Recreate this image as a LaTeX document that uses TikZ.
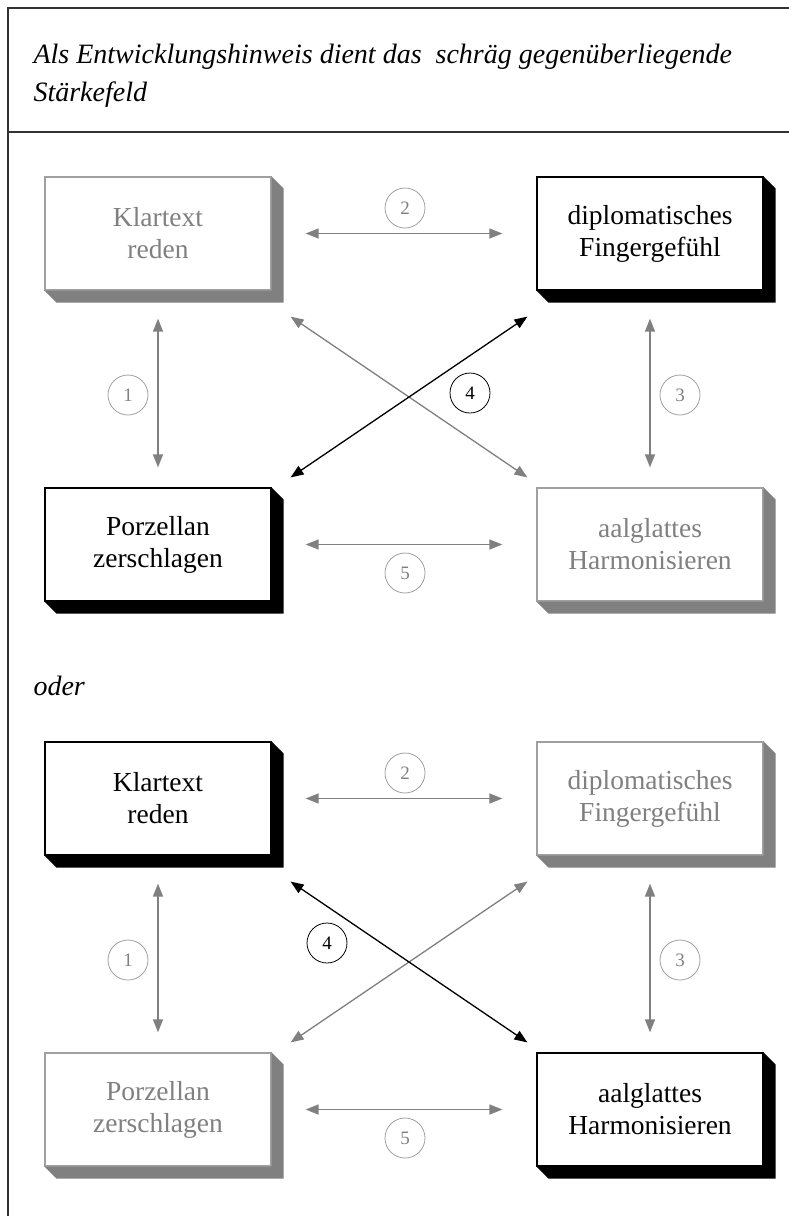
\documentclass[tikz,border=0pt]{standalone}
\usepackage{fontspec}
\setmainfont{Liberation Serif}
\usetikzlibrary{arrows.meta}
\definecolor{fg}{HTML}{808080}
\definecolor{gb}{HTML}{A0A0A0}
\newcommand\boxfont{\fontsize{27.5}{32}\selectfont}
\newcommand\numfont{\fontsize{19}{22}\selectfont}
\newcommand\titlefont{\fontsize{28}{38}\selectfont\itshape}
\newcommand\shadowfor[2]{%
  \fill[#2] (#1.north east) -- ([shift={(12,12)}]#1.north east) -- ([shift={(12,12)}]#1.south east)
    -- ([shift={(12,12)}]#1.south west) -- (#1.south west) -- (#1.south east) -- cycle;}
\tikzset{
  box/.style={minimum width=226pt, minimum height=113pt, inner sep=0pt, line width=1.2pt,
    align=center, font=\boxfont, fill=white},
  graybox/.style={box, draw=gb, text=fg},
  blackbox/.style={box, draw=black, text=black},
  arr/.style={line width=1.3pt, {Triangle[length=13pt,width=10pt]}-{Triangle[length=13pt,width=10pt]}},
  grayarr/.style={arr, draw=fg, fill=fg},
  blackarr/.style={arr, draw=black, fill=black},
  num/.style={circle, minimum size=40pt, inner sep=0pt, line width=0.8pt, font=\numfont},
  graynum/.style={num, draw=gb, text=fg},
  blacknum/.style={num, draw=black, text=black},
  frame/.style={line width=1.2pt, draw=black!80}
}
\begin{document}
\begin{tikzpicture}[x=1pt,y=-1pt]
\useasboundingbox (0,0) rectangle (789,1216);
% frame
\coordinate (f1) at (8,1216);
\coordinate (f2) at (8,8);
\coordinate (f3) at (789,8);
\coordinate (h1) at (8,132);
\coordinate (h2) at (789,132);
\draw[frame] (f1) -- (f2) -- (f3);
\draw[frame] (h1) -- (h2);
\node[anchor=west, font=\titlefont, align=left] (title) at (30,76)
  {Als Entwicklungshinweis dient das\ \ schräg gegenüberliegende\\Stärkefeld};
% ===== upper section =====
\node[graybox] (a1) at (158,233.5) {Klartext\\reden};
\shadowfor{a1}{fg}
\node[blackbox] (a2) at (650,233.5) {diplomatisches\\Fingergefühl};
\shadowfor{a2}{black}
\node[blackbox] (a3) at (158,544.5) {Porzellan\\zerschlagen};
\shadowfor{a3}{black}
\node[graybox] (a4) at (650,544.5) {aalglattes\\Harmonisieren};
\shadowfor{a4}{fg}
\draw[grayarr, shorten <=28pt, shorten >=20pt] (a1.south) -- (a3.north);
\draw[grayarr, shorten <=34pt, shorten >=34pt] (a1.east) -- (a2.west);
\draw[grayarr, shorten <=28pt, shorten >=20pt] (a2.south) -- (a4.north);
\draw[grayarr, shorten <=34pt, shorten >=34pt] (a3.east) -- (a4.west);
\draw[grayarr] ([shift={(19,26)}]a1.south east) -- ([shift={(-9,-10)}]a4.north west);
\draw[blackarr] ([shift={(-9,26)}]a2.south west) -- ([shift={(19,-10)}]a3.north east);
\node[graynum] (n1a) at (128,395) {1};
\node[graynum] (n2a) at (405,208) {2};
\node[graynum] (n3a) at (680,395) {3};
\node[blacknum] (n4a) at (470,393) {4};
\node[graynum] (n5a) at (405,573) {5};
% oder
\node[anchor=west, font=\titlefont] (oder) at (30,686) {oder};
% ===== lower section =====
\node[blackbox] (b1) at (158,798.5) {Klartext\\reden};
\shadowfor{b1}{black}
\node[graybox] (b2) at (650,798.5) {diplomatisches\\Fingergefühl};
\shadowfor{b2}{fg}
\node[graybox] (b3) at (158,1109.5) {Porzellan\\zerschlagen};
\shadowfor{b3}{fg}
\node[blackbox] (b4) at (650,1109.5) {aalglattes\\Harmonisieren};
\shadowfor{b4}{black}
\draw[grayarr, shorten <=28pt, shorten >=20pt] (b1.south) -- (b3.north);
\draw[grayarr, shorten <=34pt, shorten >=34pt] (b1.east) -- (b2.west);
\draw[grayarr, shorten <=28pt, shorten >=20pt] (b2.south) -- (b4.north);
\draw[grayarr, shorten <=34pt, shorten >=34pt] (b3.east) -- (b4.west);
\draw[grayarr] ([shift={(-9,26)}]b2.south west) -- ([shift={(19,-10)}]b3.north east);
\draw[blackarr] ([shift={(19,26)}]b1.south east) -- ([shift={(-9,-10)}]b4.north west);
\node[graynum] (n1b) at (128,960) {1};
\node[graynum] (n2b) at (405,773) {2};
\node[graynum] (n3b) at (680,960) {3};
\node[blacknum] (n4b) at (327,943) {4};
\node[graynum] (n5b) at (405,1138) {5};
\end{tikzpicture}
\end{document}
